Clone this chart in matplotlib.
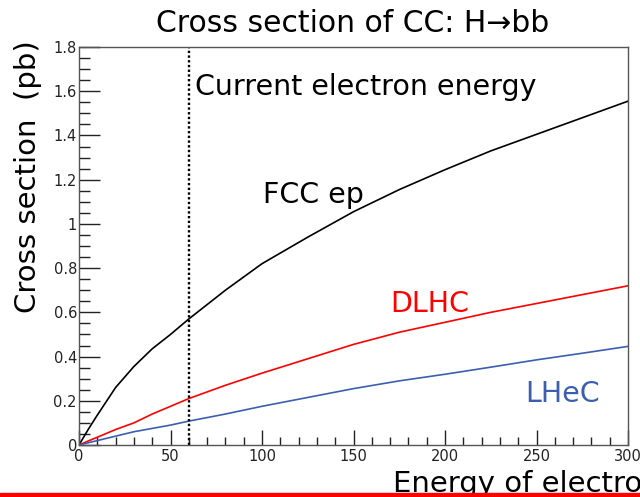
import numpy as np
import matplotlib
matplotlib.use("Agg")
import matplotlib.pyplot as plt
from matplotlib.ticker import MultipleLocator
from matplotlib.patches import Rectangle

plt.rcParams['font.family'] = ['DejaVu Sans']

# electron energy (GeV) and cross sections (pb)
energy = [0, 5, 10, 20, 30, 40, 50, 60, 80, 100, 125, 150, 175, 200, 225, 250, 275, 300]
fcc_ep = [0, 0.07, 0.135, 0.26, 0.355, 0.435, 0.50, 0.57, 0.70, 0.82, 0.94, 1.055, 1.155,
          1.245, 1.33, 1.405, 1.48, 1.555]
dlhc = [0, 0.018, 0.035, 0.07, 0.10, 0.14, 0.175, 0.21, 0.27, 0.325, 0.39, 0.455, 0.51,
        0.555, 0.60, 0.64, 0.68, 0.72]
lhec = [0, 0.01, 0.02, 0.04, 0.06, 0.075, 0.09, 0.108, 0.14, 0.175, 0.215, 0.255, 0.29,
        0.32, 0.352, 0.385, 0.415, 0.446]
current_e = 60

W, H = 640, 497
blue = '#3b5fae'


def px(x, y):
    # pixel position (from top-left) -> figure fraction
    return x / W, 1 - y / H


fig = plt.figure(figsize=(W / 100, H / 100), dpi=100)
ax = fig.add_axes([79 / W, 1 - 445 / H, (628 - 79) / W, (445 - 47) / H])

ax.plot(energy, fcc_ep, color='black', lw=1.2)
ax.plot(energy, dlhc, color='#ff0000', lw=1.2)
ax.plot(energy, lhec, color=blue, lw=1.2)
ax.plot([current_e, current_e], [0, 1.8], color='black', lw=1.7, ls=(0, (1, 1)))

ax.set_xlim(0, 300)
ax.set_ylim(0, 1.8)
ax.xaxis.set_major_locator(MultipleLocator(50))
ax.xaxis.set_minor_locator(MultipleLocator(10))
ax.yaxis.set_major_locator(MultipleLocator(0.2))
ax.yaxis.set_minor_locator(MultipleLocator(0.05))
ax.yaxis.set_major_formatter(lambda v, p: ('%g' % round(v, 2)))

ax.tick_params(axis='both', which='both', direction='in', top=False, right=False,
               colors='#222222', labelsize=10.5)
ax.tick_params(axis='x', which='major', length=11, width=1, pad=3)
ax.tick_params(axis='x', which='minor', length=6, width=1)
ax.tick_params(axis='y', which='major', length=15, width=1, pad=1.5)
ax.tick_params(axis='y', which='minor', length=8, width=1)
for s in ax.spines.values():
    s.set_color('#555555')
    s.set_linewidth(1)

fs = 20.5
fig.text(*px(195, 95), 'Current electron energy', fontsize=fs, va='baseline')
fig.text(*px(263, 203), 'FCC ep', fontsize=fs, va='baseline')
fig.text(*px(390, 311.5), 'DLHC', fontsize=fs, va='baseline', color='#ff0000')
fig.text(*px(525, 401.5), 'LHeC', fontsize=fs, va='baseline', color=blue)

fig.text(*px(353, 32), 'Cross section of CC: H\u2192bb', fontsize=21.5,
         ha='center', va='baseline')
fig.text(*px(28, 40), 'Cross section  (pb)', fontsize=21, rotation=90,
         ha='center', va='top')
fig.text(*px(393, 492.5), 'Energy of electron (GeV)', fontsize=21,
         ha='left', va='baseline')

# red strip along the bottom edge
fig.add_artist(Rectangle((0, 0), 1, 4.5 / H, transform=fig.transFigure,
                         color='#ff0000', zorder=10))

fig.savefig('out.png', dpi=100)
